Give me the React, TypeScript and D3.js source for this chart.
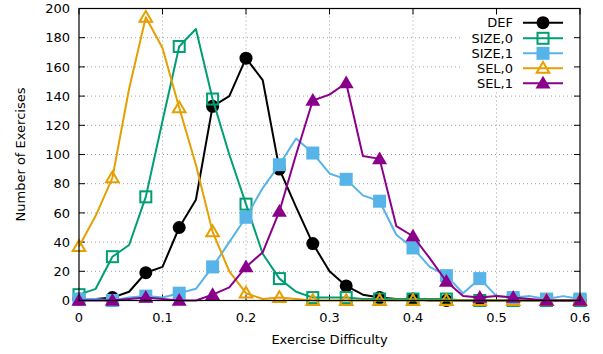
import React from "react";
import * as d3 from "d3";

const xs = [0,0.02,0.04,0.06,0.08,0.10,0.12,0.14,0.16,0.18,0.20,0.22,0.24,0.26,0.28,0.30,0.32,0.34,0.36,0.38,0.40,0.42,0.44,0.46,0.48,0.50,0.52,0.54,0.56,0.58,0.60];
const def = [1,1,2,6,19,23,50,69,133,140,166,151,90,64,39,20,10,4,2,1,1,0,0,0,0,0,0,0,0,0,0];
const size0 = [4,8,30,38,71,123,174,186,138,100,66,32,15,6,2,2,2,1,1,1,1,1,1,0,0,0,0,0,0,0,0];
const size1 = [1,1,0,2,3,2,5,8,23,40,57,77,93,111,101,87,83,72,68,45,36,23,17,5,15,3,2,3,1,3,1];
const sel0 = [37,58,84,145,194,173,132,93,47,20,5,1,2,1,0,0,0,0,0,0,0,0,0,0,0,0,0,0,0,0,0];
const sel1 = [0,0,0,1,2,1,0,0,4,9,23,33,61,100,137,141,149,99,97,51,44,29,13,3,2,3,2,1,0,0,0];
const xTicks = [0,0.1,0.2,0.3,0.4,0.5,0.6];
const yTicks = [0,20,40,60,80,100,120,140,160,180,200];

const seriesNames = ["DEF","SIZE,0","SIZE,1","SEL,0","SEL,1"];
const seriesData = [def,size0,size1,sel0,sel1];
const colors = ["#000000","#009e73","#56b4e9","#e69f00","#8b008b"];
const markers = ["circle","squareOpen","square","triangleOpen","triangle"];

const L = 79, R = 580, T = 8.5, B = 300.5;

function Marker({ type, x, y, color }: { type: string; x: number; y: number; color: string }) {
  if (type === "circle") return <circle cx={x} cy={y} r={6.5} fill={color} />;
  if (type === "square") return <rect x={x - 6.5} y={y - 6.5} width={13} height={13} fill={color} />;
  if (type === "squareOpen")
    return <rect x={x - 5.5} y={y - 5.5} width={11} height={11} fill="none" stroke={color} strokeWidth={2} />;
  const s = 7.5;
  const pts = `${x},${y - s} ${x + s},${y + s * 0.7} ${x - s},${y + s * 0.7}`;
  if (type === "triangle") return <polygon points={pts} fill={color} />;
  const s2 = 6.3;
  const pts2 = `${x},${y - s2} ${x + s2},${y + s2 * 0.7} ${x - s2},${y + s2 * 0.7}`;
  return <polygon points={pts2} fill="none" stroke={color} strokeWidth={2} strokeLinejoin="miter" />;
}

export default function App() {
  const x = d3.scaleLinear().domain([0, 0.6]).range([L, R]);
  const y = d3.scaleLinear().domain([0, 200]).range([B, T]);
  const line = d3.line<number>().x((_, i) => x(xs[i])).y((d) => y(d));
  const font = "DejaVu Sans, sans-serif";
  const fs = 13;
  const legendY = [22.7, 38.3, 53.3, 68.3, 83.3];
  return (
    <svg width={603} height={354} style={{ position: "absolute", left: 0, top: 0, background: "#fff" }} fontFamily={font}>
      {yTicks.slice(1, -1).map((t) => (
        <line key={"gy" + t} x1={L} x2={R} y1={y(t)} y2={y(t)} stroke="#a0a0a0" strokeWidth={1} strokeDasharray="1,3" />
      ))}
      {xTicks.slice(1, -1).map((t) => (
        <line key={"gx" + t} x1={x(t)} x2={x(t)} y1={T} y2={B} stroke="#a0a0a0" strokeWidth={1} strokeDasharray="1,3" />
      ))}
      <rect x={463} y={T + 1} width={R - 464} height={82} fill="#fff" />
      {yTicks.map((t) => (
        <g key={"ty" + t}>
          <line x1={L} x2={L + 6} y1={y(t)} y2={y(t)} stroke="#000" />
          <line x1={R} x2={R - 6} y1={y(t)} y2={y(t)} stroke="#000" />
          <text x={L - 9} y={y(t)} dy="0.36em" textAnchor="end" fontSize={fs}>{t}</text>
        </g>
      ))}
      {xTicks.map((t) => (
        <g key={"tx" + t}>
          <line x1={x(t)} x2={x(t)} y1={B} y2={B - 6} stroke="#000" />
          <line x1={x(t)} x2={x(t)} y1={T} y2={T + 6} stroke="#000" />
          <text x={x(t)} y={B + 17} dy="0.36em" textAnchor="middle" fontSize={fs}>{t}</text>
        </g>
      ))}
      {seriesData.map((d, si) => (
        <g key={"s" + si}>
          <path d={line(d) || ""} fill="none" stroke={colors[si]} strokeWidth={2} strokeLinejoin="round" />
          {d.map((v, i) =>
            i % 2 === 0 ? <Marker key={i} type={markers[si]} x={x(xs[i])} y={y(v)} color={colors[si]} /> : null
          )}
        </g>
      ))}
      <rect x={L} y={T} width={R - L} height={B - T} fill="none" stroke="#000" strokeWidth={1.2} />
      {seriesNames.map((n, i) => (
        <g key={"l" + i}>
          <text x={513} y={legendY[i]} dy="0.36em" textAnchor="end" fontSize={fs}>{n}</text>
          <line x1={523} x2={563} y1={legendY[i]} y2={legendY[i]} stroke={colors[i]} strokeWidth={2} />
          <Marker type={markers[i]} x={543} y={legendY[i]} color={colors[i]} />
        </g>
      ))}
      <text x={(L + R) / 2} y={339} dy="0.36em" textAnchor="middle" fontSize={fs}>Exercise Difficulty</text>
      <text transform={`translate(20,${(T + B) / 2}) rotate(-90)`} dy="0.36em" textAnchor="middle" fontSize={fs}>Number of Exercises</text>
    </svg>
  );
}
